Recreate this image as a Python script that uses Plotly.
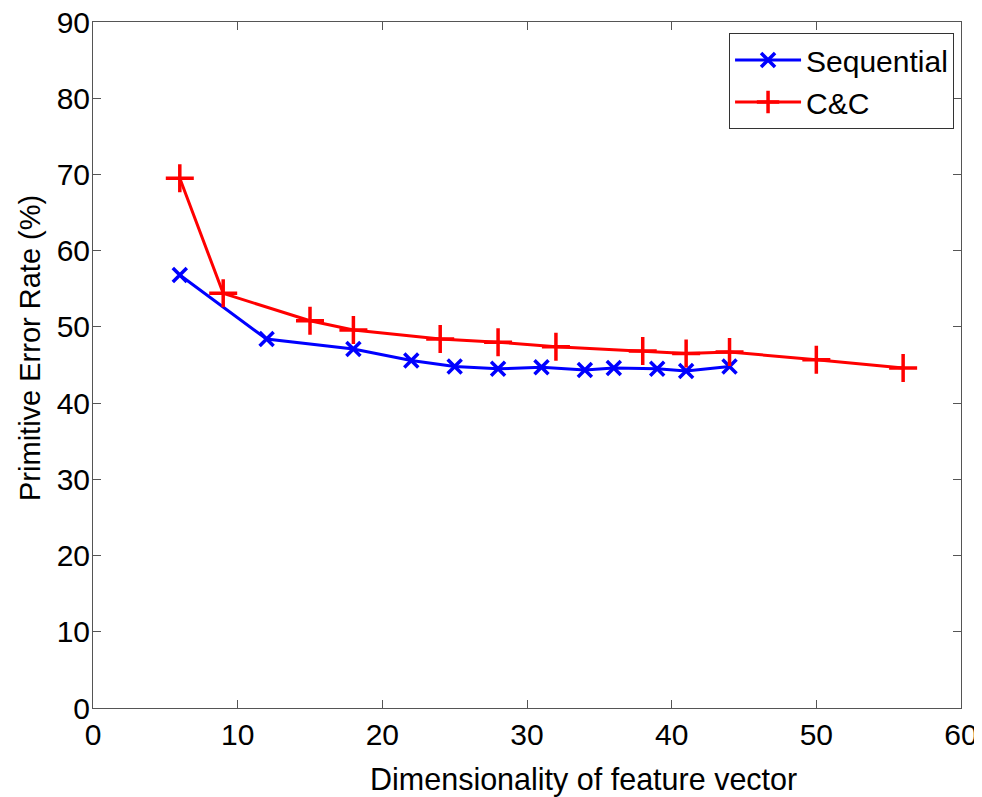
import plotly.graph_objects as go

seq_x = [6, 12, 18, 22, 25, 28, 31, 34, 36, 39, 41, 44]
seq_y = [56.8, 48.4, 47.1, 45.6, 44.8, 44.5, 44.7, 44.35, 44.6, 44.5, 44.2, 44.8]
cc_x = [6, 9, 15, 18, 24, 28, 32, 38, 41, 44, 50, 56]
cc_y = [69.5, 54.4, 50.8, 49.6, 48.4, 48.0, 47.4, 46.85, 46.5, 46.7, 45.7, 44.6]

x_ticks = [0, 10, 20, 30, 40, 50, 60]
y_ticks = [0, 10, 20, 30, 40, 50, 60, 70, 80, 90]

FONT = "Liberation Sans, Arial"

fig = go.Figure()
fig.add_trace(go.Scatter(
    x=seq_x, y=seq_y, name="Sequential", mode="lines+markers",
    line=dict(color="#0000ff", width=3),
    marker=dict(symbol="x-thin", size=14, line=dict(color="#0000ff", width=3.5)),
))
fig.add_trace(go.Scatter(
    x=cc_x, y=cc_y, name="C&C", mode="lines+markers",
    line=dict(color="#ff0000", width=3),
    marker=dict(symbol="cross-thin", size=20, line=dict(color="#ff0000", width=3.5)),
))

axis_common = dict(
    showgrid=False, zeroline=False, showline=True, linecolor="#555555", linewidth=1,
    mirror="allticks", ticks="inside", ticklen=8, tickcolor="#555555",
    tickfont=dict(family=FONT, size=30, color="black"),
    automargin=False, ticklabeloverflow="allow",
)
fig.update_xaxes(range=[0, 60], tickvals=x_ticks, ticktext=[str(v) for v in x_ticks],
                 **axis_common)
fig.update_yaxes(range=[0, 90], tickvals=y_ticks, ticktext=[str(v) for v in y_ticks],
                 ticklabelstandoff=-4,
                 **axis_common)

fig.add_annotation(
    text="Primitive Error Rate (%)", textangle=-90,
    xref="paper", yref="paper", x=-0.0726, y=0.5248,
    xanchor="center", yanchor="middle", showarrow=False,
    font=dict(family=FONT, size=29, color="black"),
)
fig.add_annotation(
    text="Dimensionality of feature vector",
    xref="paper", yref="paper", x=0.5651, y=-0.1035,
    xanchor="center", yanchor="middle", showarrow=False,
    font=dict(family=FONT, size=30.5, color="black"),
)

fig.update_layout(
    width=982, height=797,
    margin=dict(l=85, r=29, t=14, b=97),
    paper_bgcolor="white", plot_bgcolor="white",
    legend=dict(x=0.992, y=0.984, xanchor="right", yanchor="top",
                bgcolor="white", bordercolor="#333333", borderwidth=1,
                font=dict(family=FONT, size=30, color="black"),
                itemwidth=66, tracegroupgap=0),
    showlegend=True,
)

fig.write_html("out.html")
